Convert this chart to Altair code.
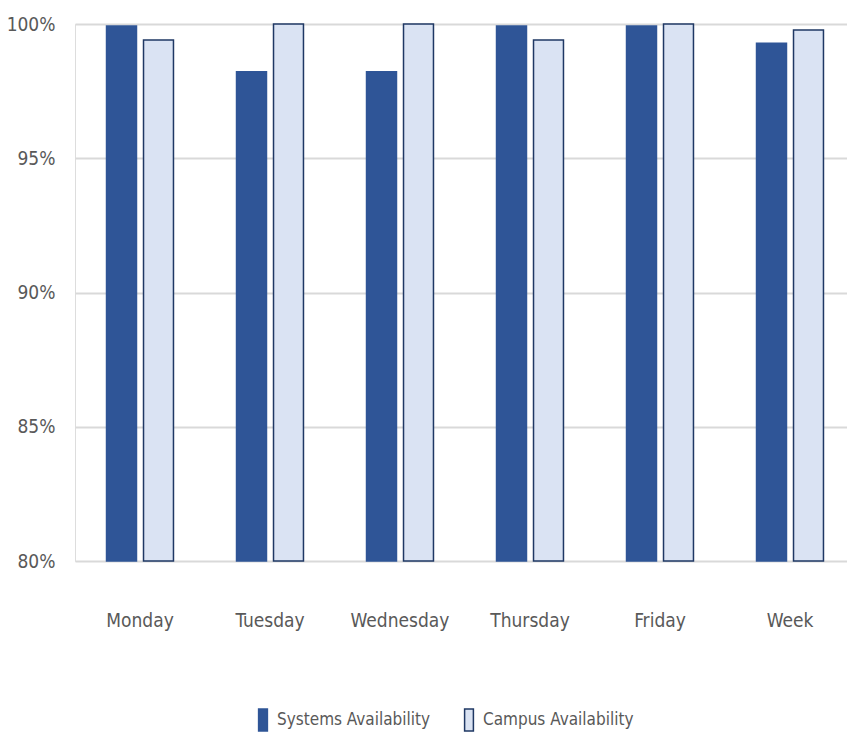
import altair as alt
import pandas as pd

days = ["Monday", "Tuesday", "Wednesday", "Thursday", "Friday", "Week"]
series_names = ["Systems Availability", "Campus Availability"]
systems = [0.9993, 0.9822, 0.9822, 0.9993, 0.9993, 0.9928]
campus = [0.9940, 1.0000, 1.0000, 0.9940, 1.0000, 0.9978]
y_ticks = [0.80, 0.85, 0.90, 0.95, 1.00]

rows = []
for d, s, c in zip(days, systems, campus):
    rows.append({"day": d, "series": series_names[0], "value": s, "base": 0.8})
    rows.append({"day": d, "series": series_names[1], "value": c, "base": 0.8})
df = pd.DataFrame(rows)

FONT = "DejaVu Sans Condensed, Liberation Sans, sans-serif"
TXT = "#595959"
SYM = "M-0.4,-1H0.4V1H-0.4Z"

def legend():
    return alt.Legend(orient="none", legendX=176, legendY=684, direction="horizontal",
                      labelFont=FONT, labelFontSize=17, labelColor=TXT,
                      symbolType=SYM, symbolSize=484,
                      symbolStrokeWidth=1.5, columnPadding=26, labelOffset=2,
                      labelLimit=300)

chart = alt.Chart(df).mark_bar(strokeWidth=1.5).encode(
    x=alt.X("day:N", sort=days, title=None,
            scale=alt.Scale(range=[0, 780], paddingInner=0.485, paddingOuter=0.2425),
            axis=alt.Axis(labelFont=FONT, labelFontSize=19, labelColor=TXT, labelAngle=0,
                          labelPadding=50, domain=False, ticks=False)),
    xOffset=alt.XOffset("series:N", sort=series_names,
                        scale=alt.Scale(paddingInner=0.19, paddingOuter=0)),
    y=alt.Y("value:Q", title=None,
            scale=alt.Scale(domain=[0.8, 1.0], zero=False, nice=False),
            axis=alt.Axis(values=y_ticks, format=".0%", labelFont=FONT, labelFontSize=19,
                          labelColor=TXT, labelPadding=20, domain=False, ticks=False,
                          gridColor="#d9d9d9", gridWidth=2)),
    y2="base:Q",
    fill=alt.Fill("series:N", sort=series_names, title=None,
                  scale=alt.Scale(domain=series_names, range=["#2F5597", "#DAE3F3"]),
                  legend=legend()),
    stroke=alt.Stroke("series:N", sort=series_names, title=None,
                      scale=alt.Scale(domain=series_names, range=["#2F5597", "#1F3864"]),
                      legend=legend()),
).properties(
    width=772, height=537,
    autosize=alt.AutoSizeParams(type="none"),
    padding={"left": 75, "top": 24, "right": 0, "bottom": 182},
).configure_view(stroke=None).configure(background="white")

chart.save("out.html", embed_options={"renderer": "svg", "actions": False})
